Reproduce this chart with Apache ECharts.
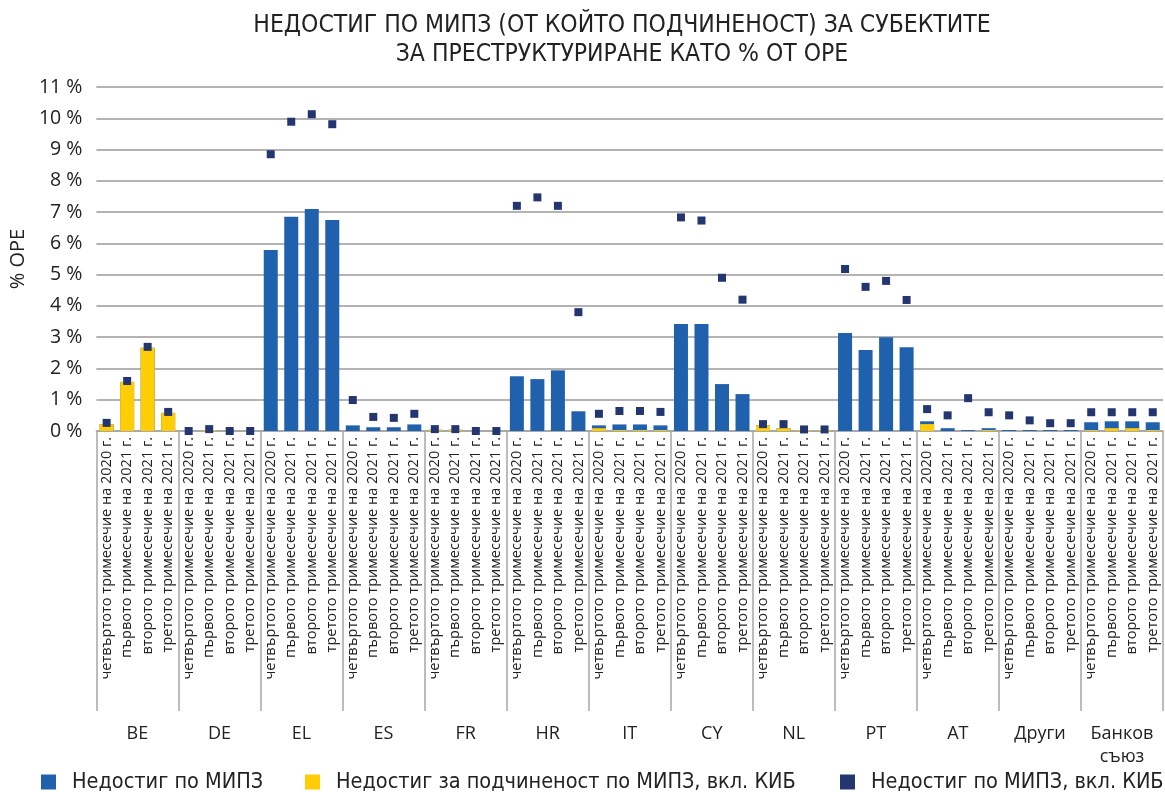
<!DOCTYPE html>
<html><head><meta charset="utf-8">
<script src="https://cdn.jsdelivr.net/npm/echarts@6/dist/echarts.min.js"></script>
<style>html,body{margin:0;padding:0;background:#fff}#c{width:1165px;height:792px}</style>
</head><body><div id="c"></div>
<script>
const groups = ['BE','DE','EL','ES','FR','HR','IT','CY','NL','PT','AT','Други','Банков\nсъюз'];
const quarters = ['четвъртото тримесечие на 2020 г.','първото тримесечие на 2021 г.','второто тримесечие на 2021 г.','третото тримесечие на 2021 г.'];
const yTicks = [0,1,2,3,4,5,6,7,8,9,10,11];
const shortfall = [
  0.22,1.57,2.66,0.58, 0,0.03,0,0, 5.79,6.85,7.10,6.75, 0.18,0.12,0.12,0.21,
  0.04,0.04,0,0, 1.75,1.66,1.94,0.63, 0.18,0.21,0.21,0.18, 3.42,3.42,1.50,1.18,
  0.18,0.09,0.03,0.03, 3.13,2.59,3.00,2.68, 0.31,0.09,0.03,0.09, 0.03,0.03,0.03,0.03,
  0.28,0.31,0.31,0.28];
const subordination = [
  0.22,1.57,2.66,0.58, 0,0.03,0,0, 0,0,0,0, 0,0,0,0,
  0.04,0.04,0,0, 0,0,0,0, 0.09,0.03,0.03,0.03, 0,0,0,0,
  0.18,0.09,0.03,0.03, 0,0,0,0, 0.22,0,0,0.03, 0,0,0,0,
  0.03,0.09,0.09,0.03];
const inclCBR = [
  0.26,1.60,2.69,0.61, 0,0.06,0,0, 8.85,9.89,10.13,9.81, 0.99,0.45,0.42,0.55,
  0.06,0.06,0,0, 7.20,7.47,7.20,3.80, 0.55,0.64,0.64,0.61, 6.83,6.73,4.90,4.20,
  0.22,0.22,0.05,0.05, 5.18,4.61,4.80,4.19, 0.70,0.50,1.05,0.60, 0.50,0.34,0.25,0.25,
  0.60,0.60,0.60,0.60];
const seriesNames = ['Недостиг по МИПЗ','Недостиг за подчиненост по МИПЗ, вкл. КИБ','Недостиг по МИПЗ, вкл. КИБ'];

const cats = [];
groups.forEach(g => quarters.forEach(q => cats.push(q)));

const FONT = '"Open Sans", "Noto Sans", sans-serif';
const NARROW = '"Liberation Sans Narrow", "DejaVu Sans Condensed", "Open Sans", sans-serif';
const legendBase = {
  top: 771, padding: 0, itemWidth: 15, itemHeight: 15, icon: 'rect',
  textStyle: {fontFamily: NARROW, fontSize: 21.5, color: '#222', padding: [0,0,0,11]}
};
const chart = echarts.init(document.getElementById('c'));
chart.setOption({
  animation: false,
  textStyle: {fontFamily: FONT},
  title: {
    text: 'НЕДОСТИГ ПО МИПЗ (ОТ КОЙТО ПОДЧИНЕНОСТ) ЗА СУБЕКТИТЕ\nЗА ПРЕСТРУКТУРИРАНЕ КАТО % ОТ ОРЕ',
    left: 617, top: 6, textAlign: 'center',
    textStyle: {fontFamily: NARROW, fontSize: 24.5, fontWeight: 'normal', color: '#222', lineHeight: 29}
  },
  legend: [
    Object.assign({left: 41, data: [seriesNames[0]]}, legendBase),
    Object.assign({left: 305, data: [seriesNames[1]]}, legendBase),
    Object.assign({left: 840, data: [seriesNames[2]]}, legendBase)
  ],
  grid: {left: 92, right: 2, top: 87, bottom: 361, containLabel: false},
  xAxis: [{
    type: 'category', data: cats, position: 'bottom',
    axisLine: {show: true, lineStyle: {color: '#a6a6a6', width: 1.5}},
    axisTick: {show: false},
    axisLabel: {interval: 0, rotate: 90, margin: 6, fontSize: 14.5, color: '#222', fontFamily: FONT}
  }, {
    type: 'category', data: groups, position: 'bottom',
    axisLine: {show: false},
    axisTick: {show: true, length: 280, lineStyle: {color: '#a6a6a6', width: 1.5}},
    axisLabel: {interval: 0, margin: 291, fontSize: 18, color: '#222', fontFamily: FONT, lineHeight: 23, verticalAlign: 'top'}
  }],
  yAxis: {
    type: 'value', min: 0, max: 11, interval: 1,
    name: '% ОРЕ', nameLocation: 'middle', nameGap: 63, nameRotate: 90,
    nameTextStyle: {fontSize: 20, color: '#222', fontFamily: FONT},
    axisLine: {show: false}, axisTick: {show: false},
    axisLabel: {formatter: '{value} %', fontSize: 19.5, color: '#222', margin: 14, fontFamily: FONT},
    splitLine: {lineStyle: {color: '#9a9a9a', width: 1.5}}
  },
  series: [{
    name: seriesNames[0], type: 'bar', data: shortfall, barWidth: 14, barGap: '-100%',
    itemStyle: {color: '#1f61ad'}
  }, {
    name: seriesNames[1], type: 'bar', data: subordination, barWidth: 14, barGap: '-100%',
    itemStyle: {color: '#ffcd05'}
  }, {
    name: seriesNames[2], type: 'scatter', data: inclCBR, symbol: 'rect', symbolSize: 8,
    itemStyle: {color: '#233670', opacity: 1}, z: 5
  }]
});
</script></body></html>
